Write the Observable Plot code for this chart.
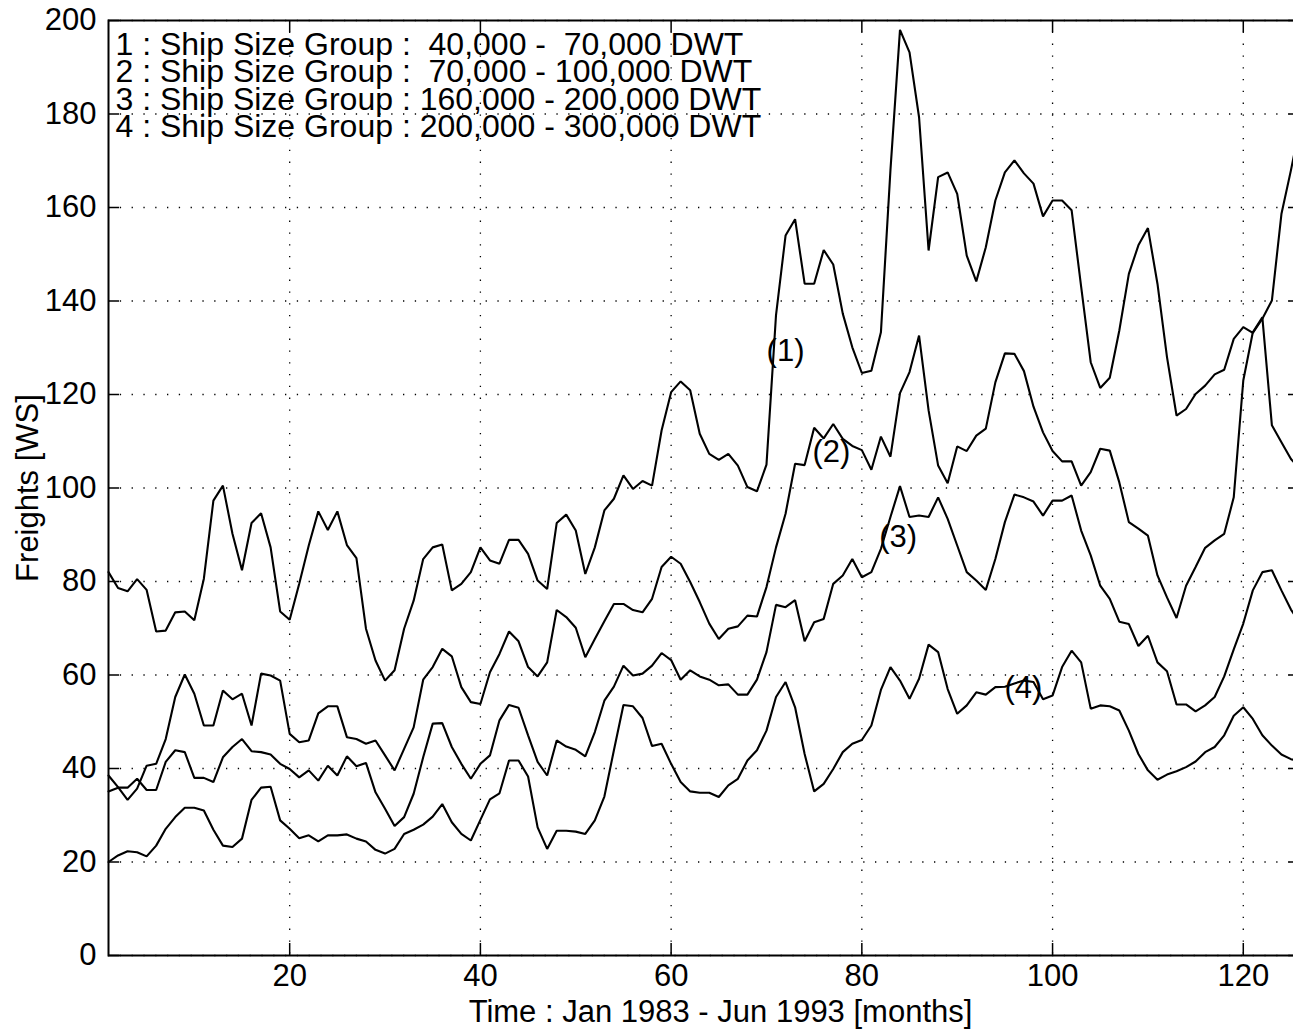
<!DOCTYPE html>
<html>
<head>
<meta charset="utf-8">
<script src="https://cdn.jsdelivr.net/npm/d3@7"></script>
<script src="https://cdn.jsdelivr.net/npm/@observablehq/plot@0.6"></script>
<style>
  html, body { margin: 0; padding: 0; background: white; }
  #wrap { width: 1293px; height: 1031px; overflow: hidden; position: relative; }
  #wrap svg { max-width: none !important; width: 1300px; height: 1031px; }
  #wrap svg text { white-space: pre; }
</style>
</head>
<body>
<div id="wrap"></div>
<script>
// ---- data (months 1..126, Jan 1983 - Jun 1993) ----
const series1 = [82.0, 78.6, 77.9, 80.5, 78.2, 69.3, 69.5, 73.4, 73.6, 71.7,
  80.6, 97.3, 100.5, 90.2, 82.4, 92.5, 94.6, 87.3, 73.6, 71.8,
  79.5, 87.7, 95.0, 91.0, 95.0, 87.8, 85.0, 69.9, 63.1, 58.8,
  61.0, 69.9, 75.9, 84.8, 87.3, 87.9, 78.1, 79.5, 82.0, 87.3,
  84.5, 83.8, 88.9, 88.9, 85.9, 80.2, 78.4, 92.5, 94.3, 90.9,
  81.6, 87.3, 95.2, 97.7, 102.7, 99.8, 101.5, 100.5, 112.3, 120.5,
  122.8, 120.9, 111.6, 107.3, 106.0, 107.3, 104.8, 100.2, 99.3, 105.0,
  137.0, 154.0, 157.5, 143.7, 143.7, 150.9, 147.8, 137.3, 130.1, 124.6,
  125.1, 133.3, 168.0, 198.0, 193.2, 179.3, 150.8, 166.5, 167.5, 162.9,
  149.7, 144.2, 151.5, 161.5, 167.5, 170.1, 167.3, 165.1, 158.1, 161.5,
  161.5, 159.4, 143.0, 126.9, 121.4, 123.6, 133.7, 145.8, 151.9, 155.6,
  143.7, 128.0, 115.5, 116.9, 120.1, 121.9, 124.3, 125.3, 131.9, 134.4,
  133.2, 136.2, 140.1, 158.6, 168.0, 178.0];
const series2 = [38.5, 36.0, 33.3, 35.7, 40.6, 41.0, 46.3, 55.3, 60.1, 56.0,
  49.2, 49.2, 56.7, 54.8, 56.0, 49.2, 60.3, 59.9, 58.8, 47.4,
  45.6, 46.0, 51.8, 53.3, 53.3, 46.7, 46.3, 45.3, 46.0, 42.8,
  39.6, 44.2, 48.8, 59.0, 61.7, 65.6, 64.0, 57.4, 54.2, 53.8,
  60.6, 64.5, 69.3, 67.2, 61.7, 59.7, 62.7, 73.9, 72.4, 70.1,
  63.8, 67.7, 71.5, 75.2, 75.2, 73.9, 73.4, 76.3, 83.1, 85.3,
  83.8, 79.9, 75.6, 71.0, 67.7, 69.9, 70.4, 72.7, 72.5, 78.8,
  87.3, 94.5, 105.2, 104.9, 112.9, 110.6, 113.7, 110.5, 109.0, 108.1,
  103.9, 111.0, 106.7, 120.3, 124.8, 132.6, 116.6, 104.8, 101.0, 108.9,
  107.9, 111.2, 112.7, 122.6, 128.8, 128.7, 125.0, 117.4, 111.9, 107.9,
  105.7, 105.7, 100.5, 103.4, 108.4, 108.0, 101.2, 92.7, 91.3, 89.8,
  81.3, 76.6, 72.2, 79.1, 83.1, 87.2, 88.8, 90.2, 98.0, 123.0,
  133.3, 136.5, 113.4, 109.8, 106.2, 104.0];
const series3 = [35.1, 35.9, 35.9, 37.8, 35.4, 35.4, 41.4, 43.9, 43.5, 38.0,
  38.0, 37.1, 42.4, 44.6, 46.3, 43.7, 43.5, 43.0, 41.0, 39.9,
  38.1, 39.6, 37.4, 40.6, 38.5, 42.6, 40.5, 41.2, 34.9, 31.4,
  27.7, 29.6, 34.6, 42.4, 49.6, 49.7, 44.6, 41.0, 37.8, 41.0,
  42.8, 50.3, 53.6, 53.0, 47.1, 41.4, 38.5, 46.0, 44.7, 44.0,
  42.6, 47.8, 54.5, 57.5, 62.0, 59.9, 60.3, 62.0, 64.7, 63.2,
  59.0, 61.0, 59.7, 59.0, 57.8, 58.0, 55.8, 55.8, 59.0, 64.9,
  75.0, 74.5, 76.0, 67.2, 71.3, 72.0, 79.5, 81.3, 84.8, 80.9,
  82.0, 87.0, 93.8, 100.4, 93.8, 94.1, 93.8, 98.0, 93.4, 87.7,
  82.0, 80.2, 78.2, 84.8, 92.7, 98.6, 98.0, 97.1, 94.1, 97.3,
  97.3, 98.4, 90.9, 85.6, 79.1, 76.3, 71.4, 70.9, 66.2, 68.4,
  62.7, 60.8, 53.7, 53.7, 52.2, 53.5, 55.3, 59.7, 65.5, 71.0,
  78.1, 82.0, 82.4, 78.1, 74.0, 71.0];
const series4 = [20.0, 21.4, 22.3, 22.1, 21.2, 23.5, 27.1, 29.6, 31.6, 31.6,
  31.0, 26.9, 23.5, 23.2, 25.0, 33.3, 35.9, 36.1, 28.9, 27.1,
  25.1, 25.7, 24.4, 25.7, 25.7, 25.9, 25.0, 24.4, 22.6, 21.8,
  22.8, 26.0, 26.9, 28.0, 29.7, 32.4, 28.5, 26.0, 24.6, 29.0,
  33.4, 34.7, 41.7, 41.7, 38.3, 27.4, 22.8, 26.7, 26.7, 26.5,
  26.0, 28.9, 34.0, 43.9, 53.6, 53.3, 50.8, 44.8, 45.3, 41.0,
  37.1, 35.1, 34.8, 34.8, 33.9, 36.4, 37.8, 41.7, 43.9, 48.1,
  55.3, 58.5, 53.1, 43.1, 35.1, 36.7, 39.9, 43.5, 45.3, 46.1,
  49.2, 56.8, 61.7, 58.8, 54.9, 59.2, 66.5, 64.9, 57.0, 51.7,
  53.5, 56.3, 55.8, 57.4, 57.5, 58.2, 58.8, 58.5, 54.8, 55.6,
  61.7, 65.2, 62.7, 52.8, 53.5, 53.3, 52.4, 48.1, 43.1, 39.6,
  37.6, 38.7, 39.4, 40.3, 41.5, 43.5, 44.6, 47.1, 51.3, 53.1,
  50.6, 47.1, 44.9, 43.0, 42.0, 41.5];

const xTicks = [20, 40, 60, 80, 100, 120];
const yTicks = [0, 20, 40, 60, 80, 100, 120, 140, 160, 180, 200];

const legendLabels = [
  "1 : Ship Size Group :  40,000 -  70,000 DWT",
  "2 : Ship Size Group :  70,000 - 100,000 DWT",
  "3 : Ship Size Group : 160,000 - 200,000 DWT",
  "4 : Ship Size Group : 200,000 - 300,000 DWT"
];
const curveLabels = ["(1)", "(2)", "(3)", "(4)"];
const curveLabelX = [72.0, 76.8, 83.8, 96.95];
const curveLabelY = [129.2, 107.6, 89.4, 57.3];

const xLabel = "Time : Jan 1983 - Jun 1993 [months]";
const yLabel = "Freights [WS]";

// ---- build tables ----
const allSeries = [series1, series2, series3, series4];
const rows = [];
allSeries.forEach((s, i) => s.forEach((v, j) => rows.push({month: j + 1, value: v, series: i + 1})));
const labelRows = curveLabels.map((t, i) => ({text: t, x: curveLabelX[i], y: curveLabelY[i]}));

const W = 1300, H = 1031, ML = 108, MR = 0, MT = 20, MB = 76;
const innerW = W - ML - MR, innerH = H - MT - MB;
const tickLenY = 11, tickLenX = 12;

const chart = Plot.plot({
  width: W, height: H,
  marginLeft: ML, marginRight: MR, marginTop: MT, marginBottom: MB,
  x: {domain: [1, 126]},
  y: {domain: [0, 200]},
  style: {fontFamily: "'Liberation Sans', Arial, Helvetica, sans-serif", fontSize: "31px", color: "black", background: "white", overflow: "visible", maxWidth: "none"},
  marks: [
    Plot.gridX(xTicks, {stroke: "black", strokeOpacity: 1, strokeWidth: 1.3, strokeDasharray: "1.3,10.5"}),
    Plot.gridY(yTicks, {stroke: "black", strokeOpacity: 1, strokeWidth: 1.3, strokeDasharray: "1.3,10.5"}),
    Plot.ruleY(yTicks, {insetRight: innerW - tickLenY, stroke: "black", strokeWidth: 1.5}),
    Plot.ruleY(yTicks, {insetLeft: innerW - tickLenY, stroke: "black", strokeWidth: 1.5}),
    Plot.ruleX(xTicks, {insetTop: innerH - tickLenX, stroke: "black", strokeWidth: 1.5}),
    Plot.ruleX(xTicks, {insetBottom: innerH - tickLenX, stroke: "black", strokeWidth: 1.5}),
    Plot.line(rows, {x: "month", y: "value", z: "series", stroke: "black", strokeWidth: 2.1, strokeLinejoin: "miter"}),
    Plot.frame({stroke: "black", strokeWidth: 2}),
    Plot.axisY(yTicks, {tickSize: 0, tickPadding: 12, label: null, fontSize: 31}),
    Plot.axisX(xTicks, {tickSize: 0, tickPadding: 8, label: null, fontSize: 31}),
    Plot.text([yLabel], {frameAnchor: "left", dx: -80, rotate: -90, text: d => d, fontSize: 31, lineAnchor: "middle", textAnchor: "middle"}),
    Plot.text([xLabel], {frameAnchor: "bottom", dx: 16, dy: 57, text: d => d, fontSize: 31, lineAnchor: "middle", textAnchor: "middle"}),
    Plot.text([legendLabels.join("\n")], {frameAnchor: "top-left", dx: 7, dy: 14.5, text: d => d, fontSize: 32, lineAnchor: "top", textAnchor: "start", lineHeight: 0.86}),
    Plot.text(labelRows, {x: "x", y: "y", text: "text", fontSize: 31, lineAnchor: "middle", textAnchor: "middle"})
  ]
});
document.getElementById("wrap").appendChild(chart);
</script>
</body>
</html>
